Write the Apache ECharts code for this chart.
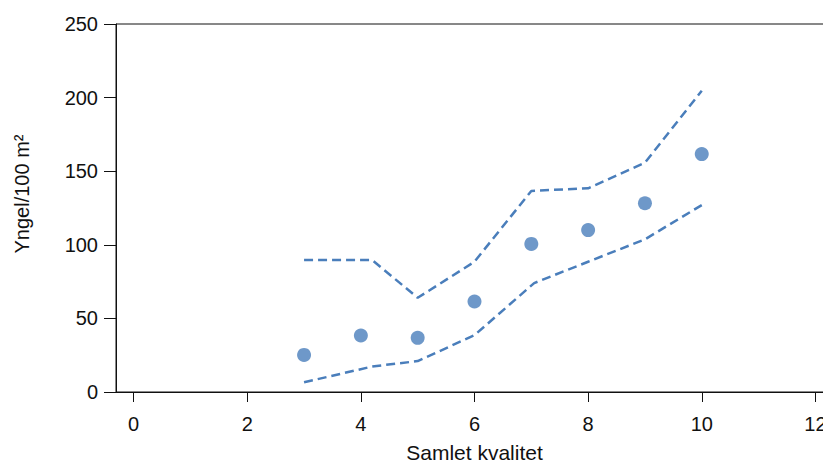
<!DOCTYPE html>
<html>
<head>
<meta charset="utf-8">
<script src="https://cdn.jsdelivr.net/npm/echarts@6/dist/echarts.min.js"></script>
<style>
html,body{margin:0;padding:0;background:#fff;overflow:hidden;}
#chart{width:823px;height:461px;}
</style>
</head>
<body>
<div id="chart"></div>
<script>
// Data
const dotX = [3, 4, 5, 6, 7, 8, 9, 10];
const dotValues = [25.2, 38.4, 36.8, 61.5, 100.6, 110.0, 128.2, 161.6];
const upperX = [3, 4.2, 5, 6, 7, 8, 9, 10];
const upperValues = [89.6, 89.6, 64.0, 88.5, 136.6, 138.4, 155.8, 204.6];
const lowerX = [3, 4.2, 5, 6, 7.05, 8, 9, 10];
const lowerValues = [6.6, 17.3, 21.0, 38.6, 74.0, 88.5, 103.7, 127.0];
const xTicks = [0, 2, 4, 6, 8, 10, 12];

const pair = (xs, ys) => xs.map((x, i) => [x, ys[i]]);
const blue = '#4a7ebb';
const ink = '#111111';
const font = '"Liberation Sans", Arial, sans-serif';

const chart = echarts.init(document.getElementById('chart'), null, {renderer: 'svg'});
chart.setOption({
  animation: false,
  grid: {left: 116, top: 24, right: -10, bottom: 69, show: true, borderColor: ink, borderWidth: 1,
         containLabel: false, outerBoundsMode: 'none'},
  xAxis: {
    type: 'value', min: -0.31, max: 12.31,
    name: 'Samlet kvalitet', nameLocation: 'middle', nameGap: 50,
    nameTextStyle: {color: ink, fontSize: 21, fontFamily: font},
    axisLine: {show: true, onZero: false, lineStyle: {color: ink, width: 1}},
    axisTick: {show: true, length: 10, customValues: xTicks, lineStyle: {color: ink}},
    axisLabel: {customValues: xTicks, margin: 22, color: ink, fontSize: 20, fontFamily: font},
    splitLine: {show: false}
  },
  yAxis: {
    type: 'value', min: 0, max: 250, interval: 50,
    name: 'Yngel/100 m²', nameLocation: 'middle', nameGap: 84,
    nameTextStyle: {color: ink, fontSize: 20, fontFamily: font, padding: [0, 0, 0, 28]},
    axisLine: {show: true, onZero: false, lineStyle: {color: ink, width: 1}},
    axisTick: {show: true, length: 12, lineStyle: {color: ink}},
    axisLabel: {margin: 18, color: ink, fontSize: 20, fontFamily: font},
    splitLine: {show: false}
  },
  series: [
    {type: 'line', data: pair(upperX, upperValues), symbol: 'none',
     lineStyle: {color: blue, width: 2.5, type: [9, 5]}, z: 2},
    {type: 'line', data: pair(lowerX, lowerValues), symbol: 'none',
     lineStyle: {color: blue, width: 2.5, type: [9, 5]}, z: 2},
    {type: 'scatter', data: pair(dotX, dotValues), symbol: 'circle', symbolSize: 14,
     itemStyle: {color: blue}, z: 3}
  ]
});
</script>
</body>
</html>
